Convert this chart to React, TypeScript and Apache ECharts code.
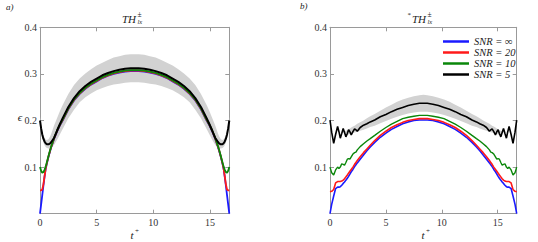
import React, { useEffect, useRef } from "react";
import * as echarts from "echarts";

// ---------- Panel a) data ----------
const tA = [0, 0.1, 0.2, 0.3, 0.4, 0.5, 0.6, 0.75, 0.9, 1.0, 1.25, 1.5, 1.75, 2.0, 2.5, 3.0, 3.5, 4.0, 4.5, 5.0, 5.5, 6.0, 6.5, 7.0, 7.5, 8.0,
  8.35,
  8.7, 9.2, 9.7, 10.2, 10.7, 11.2, 11.7, 12.2, 12.7, 13.2, 13.7, 14.2, 14.7, 14.95, 15.2, 15.45, 15.7, 15.8, 15.95, 16.1, 16.2, 16.3, 16.4, 16.5, 16.6, 16.7];
const blueA = [0, .02, .04, .06, .079, .096, .107, .122, .135, .143, .161, .176, .189, .2, .224, .243, .257, .268, .277, .284, .291, .296, .3, .303, .305, .306,
  .306,
  .306, .305, .303, .3, .296, .291, .284, .277, .268, .257, .243, .224, .2, .189, .176, .161, .143, .135, .122, .107, .096, .079, .06, .04, .02, 0];
const redA = [.05, .05, .052, .063, .08, .097, .108, .123, .136, .144, .162, .177, .19, .201, .225, .244, .258, .269, .278, .285, .292, .297, .301, .304, .306, .307,
  .307,
  .307, .306, .304, .301, .297, .292, .285, .278, .269, .258, .244, .225, .201, .19, .177, .162, .144, .136, .123, .108, .097, .08, .063, .052, .05, .05];
const greenA = [.1, .092, .088, .089, .094, .101, .11, .124, .137, .145, .163, .178, .191, .202, .226, .245, .259, .27, .279, .286, .293, .298, .302, .305, .307, .308,
  .308,
  .308, .307, .305, .302, .298, .293, .286, .279, .27, .259, .245, .226, .202, .191, .178, .163, .145, .137, .124, .11, .101, .094, .089, .088, .092, .1];
const blackA = [.2, .183, .17, .161, .155, .151, .149, .149, .151, .154, .163, .178, .192, .205, .229, .248, .263, .274, .283, .29, .297, .302, .306, .309, .311, .312,
  .312,
  .312, .311, .309, .306, .302, .297, .29, .283, .274, .263, .248, .229, .205, .192, .178, .163, .154, .151, .149, .149, .151, .155, .161, .17, .183, .2];
const bandLowA = [.192, .175, .162, .153, .147, .143, .141, .140, .141, .142, .148, .158, .17, .182, .205, .223, .239, .25, .258, .265, .27, .274, .277, .279, .281, .282,
  .282,
  .282, .281, .279, .277, .274, .27, .265, .258, .25, .239, .223, .205, .182, .17, .158, .148, .142, .141, .140, .141, .143, .147, .153, .162, .175, .192];
const bandHighA = [.208, .191, .178, .169, .163, .159, .158, .16, .166, .172, .19, .205, .22, .233, .257, .276, .29, .301, .31, .318, .324, .33, .335, .338, .341, .342,
  .342,
  .342, .341, .338, .335, .33, .324, .318, .31, .301, .29, .276, .257, .233, .22, .205, .19, .172, .166, .16, .158, .159, .163, .169, .178, .191, .208];

// ---------- Panel b) data ----------
const tB = [0, 0.15, 0.33, 0.5, 0.68, 0.8, 0.92, 1.05, 1.18, 1.3, 1.42, 1.55, 1.66, 1.78, 1.9, 2.05, 2.2, 2.32, 2.44, 2.7, 3.0, 3.3, 3.6, 4.0, 4.5, 5.0, 5.5, 6.0, 6.5, 7.0, 7.5, 8.0,
  8.35,
  8.7, 9.2, 9.7, 10.2, 10.7, 11.2, 11.7, 12.2, 12.7, 13.1, 13.4, 13.7, 14.0, 14.26, 14.38, 14.5, 14.65, 14.8, 14.92, 15.04, 15.15, 15.28, 15.4, 15.52, 15.65, 15.78, 15.9, 16.02, 16.2, 16.37, 16.55, 16.7];
const blueB = [0, .02, .038, .054, .057, .057, .058, .061, .065, .068, .072, .076, .08, .085, .09, .095, .101, .105, .109, .117, .126, .135, .143, .153, .164, .173, .181, .187, .193, .197, .2, .201,
  .201,
  .201, .2, .197, .193, .187, .181, .173, .164, .153, .143, .135, .126, .117, .109, .105, .101, .095, .09, .085, .08, .076, .072, .068, .065, .061, .058, .057, .057, .054, .038, .02, 0];
const redB = [.047, .048, .052, .066, .069, .069, .069, .07, .072, .075, .079, .083, .087, .091, .095, .1, .106, .11, .114, .122, .131, .139, .147, .157, .168, .177, .185, .191, .196, .2, .202, .204,
  .204,
  .204, .202, .2, .196, .191, .185, .177, .168, .157, .147, .139, .131, .122, .114, .11, .106, .1, .095, .091, .087, .083, .079, .075, .072, .07, .069, .069, .069, .066, .052, .048, .047];
const greenB = [.1, .088, .083, .094, .1, .097, .1, .107, .106, .104, .11, .117, .118, .117, .122, .128, .131, .132, .137, .144, .15, .156, .161, .168, .177, .185, .192, .198, .204, .207, .209, .211,
  .211,
  .211, .209, .207, .204, .198, .192, .185, .177, .168, .161, .156, .15, .144, .137, .132, .131, .128, .122, .117, .118, .117, .11, .104, .106, .107, .1, .097, .1, .094, .083, .088, .1];
const blackB = [.201, .175, .151, .17, .187, .176, .162, .172, .183, .174, .165, .172, .18, .176, .169, .176, .182, .18, .177, .185, .19, .193, .197, .201, .208, .213, .219, .224, .228, .232, .235, .237,
  .237,
  .237, .235, .232, .228, .224, .219, .213, .208, .201, .197, .193, .19, .185, .177, .18, .182, .176, .169, .176, .18, .172, .165, .174, .183, .172, .162, .176, .187, .17, .151, .175, .201];
const bandLowB = [.175, .175, .175, .175, .175, .175, .175, .175, .175, .172, .169, .169, .17, .171, .172, .173, .174, .175, .176, .178, .18, .183, .186, .189, .194, .199, .204, .208, .212, .215, .217, .219,
  .219,
  .219, .217, .215, .212, .208, .204, .199, .194, .189, .186, .183, .18, .178, .176, .175, .174, .173, .172, .171, .17, .169, .169, .172, .175, .175, .175, .175, .175, .175, .175, .175, .175];
const bandHighB = [.175, .175, .175, .175, .175, .175, .175, .175, .175, .177, .178, .179, .181, .183, .185, .187, .189, .191, .193, .196, .2, .205, .209, .214, .221, .228, .234, .24, .245, .249, .252, .254,
  .255,
  .254, .252, .249, .245, .24, .234, .228, .221, .214, .209, .205, .2, .196, .193, .191, .189, .187, .185, .183, .181, .179, .178, .177, .175, .175, .175, .175, .175, .175, .175, .175, .175];

const names = ["SNR = ∞", "SNR = 20", "SNR = 10", "SNR = 5"];
const colors = ["#1a1aff", "#ff1a1a", "#0a870a", "#000000"];
const xTickLabels = [0, 5, 10, 15];
const yTickLabels = [0.1, 0.2, 0.3, 0.4];

const SERIF = "Liberation Serif";
const AXIS_COLOR = "#9a9a9a";

const zip = (xs: number[], ys: number[]) => xs.map((x, i) => [x, ys[i]]);

function xAxisDef(grid: number, top: boolean) {
  return {
    type: "value",
    gridIndex: grid,
    position: top ? "top" : "bottom",
    min: 0,
    max: 16.7,
    interval: 5,
    axisLine: { show: true, onZero: false, lineStyle: { color: AXIS_COLOR, width: 1 } },
    axisTick: { show: true, inside: true, length: 4, lineStyle: { color: AXIS_COLOR } },
    splitLine: { show: false },
    axisLabel: {
      show: !top,
      showMaxLabel: false,
      margin: 4,
      color: "#333",
      fontFamily: SERIF,
      fontSize: 10,
      formatter: (v: number) => (xTickLabels.includes(v) ? String(v) : ""),
    },
  };
}
function yAxisDef(grid: number, right: boolean) {
  return {
    type: "value",
    gridIndex: grid,
    position: right ? "right" : "left",
    min: 0,
    max: 0.4,
    interval: 0.1,
    axisLine: { show: true, onZero: false, lineStyle: { color: AXIS_COLOR, width: 1 } },
    axisTick: { show: true, inside: true, length: 4, lineStyle: { color: AXIS_COLOR } },
    splitLine: { show: false },
    axisLabel: {
      show: !right,
      margin: 3,
      color: "#333",
      fontFamily: SERIF,
      fontSize: 10,
      formatter: (v: number) => {
        const r = Math.round(v * 10) / 10;
        return yTickLabels.includes(r) ? r.toFixed(1) : "";
      },
    },
  };
}

function lineSeries(name: string, color: string, xs: number[], ys: number[], axis: number, width: number, z: number) {
  return {
    type: "line",
    name,
    xAxisIndex: axis,
    yAxisIndex: axis,
    data: zip(xs, ys),
    showSymbol: false,
    symbol: "none",
    smooth: false,
    lineStyle: { color, width },
    itemStyle: { color },
    z,
  };
}

function bandSeries(xs: number[], low: number[], high: number[], axis: number) {
  return {
    type: "custom",
    xAxisIndex: axis,
    yAxisIndex: axis,
    silent: true,
    z: 1,
    data: xs.map((x, i) => [x, low[i], high[i]]),
    encode: { x: 0, y: [1, 2] },
    renderItem: (params: any, api: any) => {
      if (params.dataIndex !== 0) return null;
      const pts: number[][] = [];
      for (let i = 0; i < xs.length; i++) pts.push(api.coord([xs[i], high[i]]));
      for (let i = xs.length - 1; i >= 0; i--) pts.push(api.coord([xs[i], low[i]]));
      return {
        type: "polygon",
        shape: { points: pts },
        style: { fill: "#d2d2d2", stroke: "none" },
      };
    },
  };
}

function txt(text: string, x: number, y: number, size: number, italic: boolean, align = "left") {
  return {
    type: "text",
    x,
    y,
    silent: true,
    style: {
      text,
      fill: "#222",
      fontFamily: SERIF,
      fontSize: size,
      fontStyle: italic ? "italic" : "normal",
      textAlign: align,
      textVerticalAlign: "middle",
    },
  };
}

export default function App() {
  const ref = useRef<HTMLDivElement>(null);
  useEffect(() => {
    if (!ref.current) return;
    const chart = echarts.init(ref.current, undefined, { renderer: "svg" });
    const seriesA = [
      bandSeries(tA, bandLowA, bandHighA, 0),
      lineSeries(names[0], colors[0], tA, blueA, 0, 1.8, 3),
      lineSeries(names[1], colors[1], tA, redA, 0, 1.8, 4),
      lineSeries(names[2], colors[2], tA, greenA, 0, 1.8, 5),
      lineSeries(names[3], colors[3], tA, blackA, 0, 2, 6),
    ];
    const seriesB = [
      bandSeries(tB, bandLowB, bandHighB, 2),
      lineSeries(names[0], colors[0], tB, blueB, 2, 1.6, 3),
      lineSeries(names[1], colors[1], tB, redB, 2, 1.6, 4),
      lineSeries(names[2], colors[2], tB, greenB, 2, 1.4, 5),
      lineSeries(names[3], colors[3], tB, blackB, 2, 1.6, 6),
    ];
    chart.setOption({
      animation: false,
      backgroundColor: "#fff",
      textStyle: { fontFamily: SERIF },
      grid: [
        { left: 40, top: 27.3, width: 189.3, height: 186.4 },
        { left: 330, top: 27.3, width: 186.7, height: 186.4 },
      ],
      xAxis: [xAxisDef(0, false), xAxisDef(0, true), xAxisDef(1, false), xAxisDef(1, true)],
      yAxis: [yAxisDef(0, false), yAxisDef(0, true), yAxisDef(1, false), yAxisDef(1, true)],
      legend: {
        data: names,
        orient: "vertical",
        left: 443,
        top: 36,
        padding: 0,
        itemGap: 0,
        itemWidth: 26,
        itemHeight: 2.5,
        icon: "rect",
        selectedMode: false,
        textStyle: { fontFamily: SERIF, fontStyle: "italic", fontSize: 10.5, color: "#222", lineHeight: 10.5 },
      },
      series: [...seriesA, ...seriesB],
      graphic: [
        txt("a)", 6, 7, 9, true),
        txt("b)", 300, 6, 9, true),
        // title a
        txt("TH", 129, 18.5, 11, true, "center"),
        txt("±", 137.5, 14, 7.5, false),
        txt("lx", 137.5, 21.5, 6.5, true),
        // title b
        txt("*", 407.5, 15, 7, false),
        txt("TH", 419, 18.5, 11, true, "center"),
        txt("±", 427.5, 14, 7.5, false),
        txt("lx", 427.5, 21.5, 6.5, true),
        // axis labels
        txt("ϵ", 20, 117, 11, true, "center"),
        txt("t", 132, 235, 11, true, "center"),
        txt("+", 135, 231, 7, false),
        txt("t", 423, 235, 11, true, "center"),
        txt("+", 426, 231, 7, false),
      ],
    });
    return () => chart.dispose();
  }, []);
  return (
    <div
      ref={ref}
      style={{ position: "fixed", left: 0, top: 0, width: 538, height: 242, background: "#fff" }}
    />
  );
}
